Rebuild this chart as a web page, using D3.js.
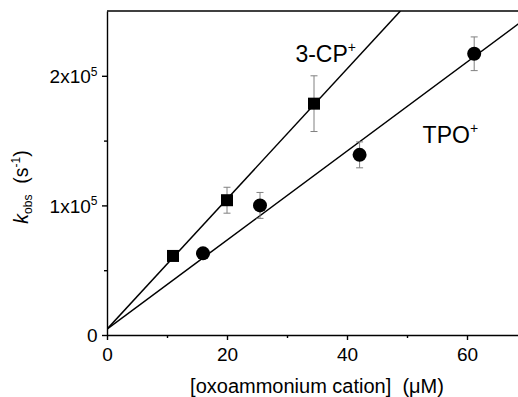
<!DOCTYPE html>
<html>
<head>
<meta charset="utf-8">
<script src="https://cdn.jsdelivr.net/npm/d3@7"></script>
<style>
  body { margin: 0; background: #fff; }
  text { font-family: "Liberation Sans", Arial, sans-serif; fill: #000; white-space: pre; }
</style>
</head>
<body>
<div id="chart"></div>
<script>
// 3-CP+ data (squares)
const cpConc = [11, 20, 34.5];
const cpRate = [61000, 104000, 178500];
const cpErr = [3000, 10000, 21500];

// TPO+ data (circles)
const tpoConc = [16, 25.5, 42.1, 61.2];
const tpoRate = [63000, 100000, 139000, 217000];
const tpoErr = [3000, 10000, 10000, 13000];

// linear fits, endpoints
const cpFit = [[0, 4500], [48.9, 250000]];
const tpoFit = [[0, 4500], [70, 245000]];

// ticks
const xMajor = [0, 20, 40, 60];
const xMinor = [10, 30, 50];
const yMajor = [0, 100000, 200000];
const yMinor = [50000, 150000];
const yTickText = ["0", "1x10", "2x10"];
const yTickSup = ["", "5", "5"];

// series labels, in data units
const seriesNames = ["3-CP", "TPO"];
const seriesLabelX = [31.4, 52.6];
const seriesLabelY = [211000, 148500];

const width = 518, height = 397;
const margin = { left: 107, top: 11, right: -9, bottom: 62 };

const x = d3.scaleLinear().domain([0, 70]).range([margin.left, width - margin.right]);
const y = d3.scaleLinear().domain([0, 250000]).range([height - margin.bottom, margin.top]);

const svg = d3.select("#chart").append("svg")
  .attr("width", width)
  .attr("height", height);

svg.append("defs").append("clipPath").attr("id", "plot-clip")
  .append("rect")
  .attr("x", x(0)).attr("y", y(250000))
  .attr("width", x(70) - x(0)).attr("height", y(0) - y(250000));

// axes
const xAxis = svg.append("g")
  .attr("transform", `translate(0,${y(0)})`)
  .call(d3.axisBottom(x).tickValues(xMajor).tickSize(5).tickSizeOuter(0).tickPadding(7.2));
svg.append("g")
  .attr("transform", `translate(0,${y(0)})`)
  .call(d3.axisBottom(x).tickValues(xMinor).tickSize(3).tickFormat(""))
  .call(g => g.select(".domain").remove());

const yAxis = svg.append("g")
  .attr("transform", `translate(${x(0)},0)`)
  .call(d3.axisLeft(y).tickValues(yMajor).tickSize(5).tickSizeOuter(0).tickPadding(4.5).tickFormat(""));
svg.append("g")
  .attr("transform", `translate(${x(0)},0)`)
  .call(d3.axisLeft(y).tickValues(yMinor).tickSize(3).tickFormat(""))
  .call(g => g.select(".domain").remove());

svg.selectAll(".domain, .tick line").attr("stroke", "#000").attr("stroke-width", 1.4);

xAxis.selectAll(".tick text")
  .attr("font-size", 19)
  .style("font-family", '"Liberation Sans", Arial, sans-serif');

yAxis.selectAll(".tick text")
  .attr("font-size", 19)
  .attr("dy", "0.36em")
  .style("font-family", '"Liberation Sans", Arial, sans-serif')
  .each(function (d, i) {
    const t = d3.select(this);
    t.text(null);
    t.append("tspan").text(yTickText[i]);
    if (yTickSup[i]) {
      t.append("tspan").attr("font-size", 12).attr("dy", -7.5).text(yTickSup[i]);
    }
  });

// top frame line
svg.append("line")
  .attr("x1", x(0)).attr("x2", x(70))
  .attr("y1", y(250000)).attr("y2", y(250000))
  .attr("stroke", "#000").attr("stroke-width", 1.4);

// fit lines
const plot = svg.append("g").attr("clip-path", "url(#plot-clip)");
const line = d3.line().x(d => x(d[0])).y(d => y(d[1]));
[cpFit, tpoFit].forEach(fit => {
  plot.append("path")
    .attr("d", line(fit))
    .attr("fill", "none")
    .attr("stroke", "#000")
    .attr("stroke-width", 1.5);
});

// error bars
function errorBars(xs, ys, es) {
  const g = svg.append("g").attr("stroke", "#808080").attr("stroke-width", 1);
  xs.forEach((xv, i) => {
    const cx = x(xv), top = y(ys[i] + es[i]), bot = y(ys[i] - es[i]);
    g.append("line").attr("x1", cx).attr("x2", cx).attr("y1", top).attr("y2", bot);
    g.append("line").attr("x1", cx - 3.5).attr("x2", cx + 3.5).attr("y1", top).attr("y2", top);
    g.append("line").attr("x1", cx - 3.5).attr("x2", cx + 3.5).attr("y1", bot).attr("y2", bot);
  });
}
errorBars(cpConc, cpRate, cpErr);
errorBars(tpoConc, tpoRate, tpoErr);

// markers
svg.append("g").selectAll("rect")
  .data(cpConc)
  .join("rect")
  .attr("x", (d) => x(d) - 6)
  .attr("y", (d, i) => y(cpRate[i]) - 6)
  .attr("width", 12)
  .attr("height", 12)
  .attr("fill", "#000");

svg.append("g").selectAll("circle")
  .data(tpoConc)
  .join("circle")
  .attr("cx", (d) => x(d))
  .attr("cy", (d, i) => y(tpoRate[i]))
  .attr("r", 7)
  .attr("fill", "#000");

// series labels
seriesNames.forEach((name, i) => {
  const t = svg.append("text")
    .attr("x", x(seriesLabelX[i]))
    .attr("y", y(seriesLabelY[i]))
    .attr("font-size", 23);
  t.append("tspan").text(name);
  t.append("tspan").attr("font-size", 14).attr("dy", -10).text("+");
});

// x title
svg.append("text")
  .attr("x", (x(0) + x(70)) / 2)
  .attr("y", 393)
  .attr("text-anchor", "middle")
  .attr("font-size", 20)
  .text("[oxoammonium cation]  (\u03bcM)");

// y title
const yt = svg.append("text")
  .attr("transform", "translate(28,187) rotate(-90)")
  .attr("text-anchor", "middle")
  .attr("font-size", 19.5);
yt.append("tspan").attr("font-style", "italic").text("k");
yt.append("tspan").attr("font-size", 12).attr("dy", 4).text("obs");
yt.append("tspan").attr("dy", -4).text("  (s");
yt.append("tspan").attr("font-size", 12).attr("dy", -8).text("-1");
yt.append("tspan").attr("dy", 8).text(")");
</script>
</body>
</html>
